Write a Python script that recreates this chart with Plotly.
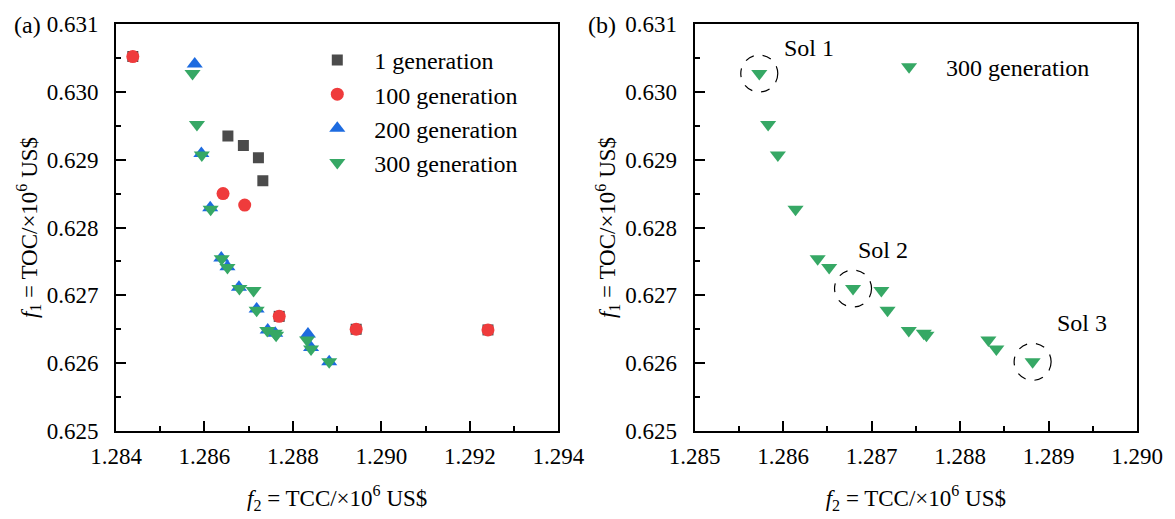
import plotly.graph_objects as go

# ---------------- data ----------------
gen1_x = [1.28438, 1.28653, 1.28688, 1.28722, 1.28732, 1.28769, 1.28943, 1.29241]
gen1_y = [0.63052, 0.62935, 0.62921, 0.62903, 0.62869, 0.62669, 0.62650, 0.62649]

gen100_x = [1.28438, 1.28642, 1.28691, 1.28769, 1.28943, 1.29241]
gen100_y = [0.63052, 0.62850, 0.62833, 0.62669, 0.62650, 0.62649]

gen200_x = [1.28578, 1.28593, 1.28613, 1.28638, 1.28652, 1.28678, 1.28718,
            1.28743, 1.28760, 1.28834, 1.28841, 1.28882]
gen200_y = [0.63041, 0.62909, 0.62829, 0.62755, 0.62742, 0.62712, 0.62680,
            0.62649, 0.62644, 0.62643, 0.62623, 0.62602]

gen300_x = [1.28573, 1.28583, 1.28594, 1.28614, 1.28639, 1.28652, 1.28679, 1.28711,
            1.28718, 1.28742, 1.28759, 1.28762, 1.28832, 1.28841, 1.28882]
gen300_y = [0.63027, 0.62952, 0.62907, 0.62827, 0.62754, 0.62741, 0.62710, 0.62707,
            0.62678, 0.62648, 0.62644, 0.62641, 0.62634, 0.62621, 0.62602]

sol_index = [0, 6, 14]
sol_labels = ["Sol 1", "Sol 2", "Sol 3"]

series_names = ["1 generation", "100 generation", "200 generation", "300 generation"]

# ---------------- style ----------------
FONT = "Liberation Serif"
GRAY = "#4b4b4b"
RED = "#ef3b3c"
BLUE = "#1d6be0"
GREEN = "#36a865"

fig = go.Figure()

fig.add_trace(go.Scatter(x=gen1_x, y=gen1_y, mode="markers", name=series_names[0],
                         marker=dict(symbol="square", size=11, color=GRAY),
                         xaxis="x", yaxis="y", legend="legend"))
fig.add_trace(go.Scatter(x=gen100_x, y=gen100_y, mode="markers", name=series_names[1],
                         marker=dict(symbol="circle", size=13, color=RED),
                         xaxis="x", yaxis="y", legend="legend"))
fig.add_trace(go.Scatter(x=gen200_x, y=gen200_y, mode="markers", name=series_names[2],
                         marker=dict(symbol="triangle-up", size=14, color=BLUE),
                         xaxis="x", yaxis="y", legend="legend"))
fig.add_trace(go.Scatter(x=gen300_x, y=gen300_y, mode="markers", name=series_names[3],
                         marker=dict(symbol="triangle-down", size=14, color=GREEN),
                         xaxis="x", yaxis="y", legend="legend"))

fig.add_trace(go.Scatter(x=gen300_x, y=gen300_y, mode="markers", name=series_names[3],
                         marker=dict(symbol="triangle-down", size=14, color=GREEN),
                         xaxis="x2", yaxis="y2", legend="legend2"))

# dashed circles around selected solutions + labels
sol_shift = [(23, 26), (3, 39), (22, 39)]
for k, i in enumerate(sol_index):
    fig.add_shape(type="circle", xref="x2", yref="y2",
                  xsizemode="pixel", ysizemode="pixel",
                  xanchor=gen300_x[i], yanchor=gen300_y[i],
                  x0=-18.5, x1=18.5, y0=-18.5, y1=18.5,
                  line=dict(color="black", width=1.2, dash="dash"))
    fig.add_annotation(x=gen300_x[i], y=gen300_y[i], xref="x2", yref="y2",
                       text=sol_labels[k], showarrow=False, xanchor="left", yanchor="middle",
                       xshift=sol_shift[k][0], yshift=sol_shift[k][1],
                       font=dict(family=FONT, size=24, color="black"))

# panel labels
fig.add_annotation(x=-0.0864, y=0.998, xref="paper", yref="paper", text="(a)", showarrow=False,
                   xanchor="center", yanchor="middle", font=dict(family=FONT, size=24, color="black"))
fig.add_annotation(x=0.476, y=0.998, xref="paper", yref="paper", text="(b)", showarrow=False,
                   xanchor="center", yanchor="middle", font=dict(family=FONT, size=24, color="black"))

xtitle = "<i>f</i><sub>2</sub> = TCC/×10<sup>6</sup> US$"
ytitle = "<i>f</i><sub>1</sub> = TOC/×10<sup>6</sup> US$"

common = dict(showline=True, linewidth=2, linecolor="black", mirror=True,
              ticks="inside", ticklen=10, tickwidth=1.5, tickcolor="black",
              showgrid=False, zeroline=False, tickformat=".3f",
              tickfont=dict(family=FONT, size=23, color="black"))

xminor = dict(ticks="inside", ticklen=5, tickwidth=1.5, tickcolor="black")

fig.update_layout(
    width=1175, height=519,
    margin=dict(l=116, r=34, t=18, b=87),
    plot_bgcolor="white", paper_bgcolor="white",
    font=dict(family=FONT, color="black"),
    xaxis=dict(domain=[0, 0.4332], range=[1.284, 1.294], dtick=0.002, tick0=1.284,
               minor=dict(dtick=0.001, **xminor), ticklabelstandoff=3,
               title=dict(text=xtitle, font=dict(family=FONT, size=23), standoff=22),
               anchor="y", **common),
    yaxis=dict(domain=[0, 1], range=[0.625, 0.631], dtick=0.001, tick0=0.625,
               minor=dict(dtick=0.0005, **xminor), ticklabelstandoff=11,
               title=dict(text=ytitle, font=dict(family=FONT, size=23), standoff=3),
               anchor="x", **common),
    xaxis2=dict(domain=[0.5668, 1], range=[1.285, 1.290], dtick=0.001, tick0=1.285,
                minor=dict(dtick=0.0005, **xminor), ticklabelstandoff=3,
                title=dict(text=xtitle, font=dict(family=FONT, size=23), standoff=22),
                anchor="y2", **common),
    yaxis2=dict(domain=[0, 1], range=[0.625, 0.631], dtick=0.001, tick0=0.625,
                minor=dict(dtick=0.0005, **xminor), ticklabelstandoff=11,
                title=dict(text=ytitle, font=dict(family=FONT, size=23), standoff=3),
                anchor="x2", **common),
    legend=dict(x=0.1805, y=0.966, xanchor="left", yanchor="top", itemwidth=64,
                bgcolor="rgba(0,0,0,0)", font=dict(family=FONT, size=24, color="black"),
                tracegroupgap=0),
    legend2=dict(x=0.7405, y=0.949, xanchor="left", yanchor="top", itemwidth=64,
                 bgcolor="rgba(0,0,0,0)", font=dict(family=FONT, size=24, color="black")),
)

fig.write_html("out.html")
